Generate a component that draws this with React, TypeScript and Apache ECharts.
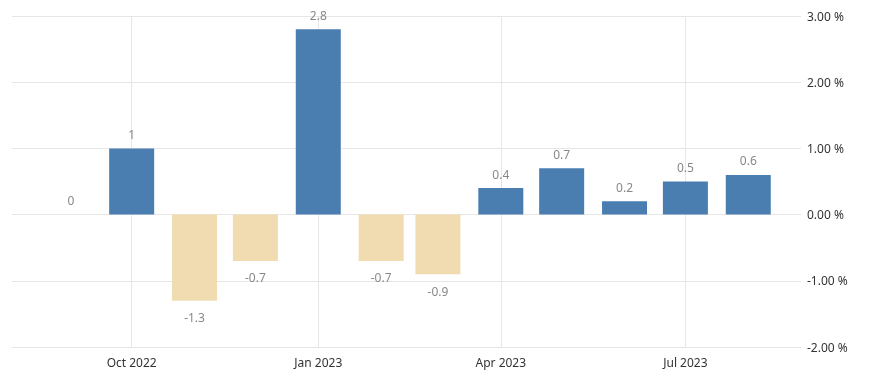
import React, { useEffect, useRef } from "react";
import * as echarts from "echarts";

const months = [
  "2022-09-01", "2022-10-01", "2022-11-01", "2022-12-01", "2023-01-01", "2023-02-01",
  "2023-03-01", "2023-04-01", "2023-05-01", "2023-06-01", "2023-07-01", "2023-08-01",
];
const values = [0, 1, -1.3, -0.7, 2.8, -0.7, -0.9, 0.4, 0.7, 0.2, 0.5, 0.6];
const tickDates = ["2022-10-01", "2023-01-01", "2023-04-01", "2023-07-01"];
const tickLabels = ["Oct 2022", "Jan 2023", "Apr 2023", "Jul 2023"];
const axisStart = "2022-08-03";
const axisEnd = "2023-08-27";

const BLUE = "#4a7eb0";
const TAN = "#f0dcb0";
const FONT = "'Noto Sans', 'Open Sans', sans-serif";

const toTime = (d: string) => new Date(d + "T00:00:00").getTime();

export default function App() {
  const ref = useRef<HTMLDivElement>(null);
  useEffect(() => {
    if (!ref.current) return;
    const chart = echarts.init(ref.current, undefined, { renderer: "svg" });
    const tickTimes = tickDates.map(toTime);
    const data = months.map((m, i) => {
      const v = values[i];
      const neg = v < 0;
      return {
        value: [toTime(m), v],
        itemStyle: { color: neg ? TAN : BLUE },
        label: {
          show: true,
          position: neg ? "bottom" : "top",
          distance: neg ? 11 : 8,
        },
      };
    });
    chart.setOption({
      animation: false,
      grid: { left: 12, right: 74, top: 16, bottom: 43, containLabel: false },
      xAxis: {
        type: "value",
        min: toTime(axisStart),
        max: toTime(axisEnd),
        axisLine: { show: false },
        axisTick: { show: false },
        splitLine: { show: false },
        axisLabel: {
          customValues: tickTimes,
          formatter: (val: number) => {
            const idx = tickTimes.findIndex((t) => Math.abs(t - val) < 86400000);
            return idx >= 0 ? tickLabels[idx] : "";
          },
          color: "#333",
          fontSize: 12,
          fontFamily: FONT,
          margin: 9,
          hideOverlap: false,
        },
      },
      yAxis: {
        type: "value",
        position: "right",
        min: -2,
        max: 3,
        interval: 1,
        axisLine: { show: false },
        axisTick: { show: false },
        splitLine: { show: true, lineStyle: { color: "#e6e6e6", width: 1 } },
        axisLabel: {
          formatter: (v: number) => v.toFixed(2) + " %",
          color: "#333",
          fontSize: 12,
          fontFamily: FONT,
          margin: 6,
        },
      },
      series: [
        {
          type: "bar",
          barWidth: 45,
          data,
          label: {
            show: true,
            color: "#888",
            fontSize: 12,
            fontFamily: FONT,
            formatter: (p: any) => String(p.value[1]),
          },
          markLine: {
            silent: true,
            symbol: "none",
            label: { show: false },
            lineStyle: { color: "#e6e6e6", type: "solid", width: 1 },
            data: tickTimes.map((t) => ({ xAxis: t })),
            z: 0,
          },
        },
      ],
    });
    return () => chart.dispose();
  }, []);
  return (
    <div
      ref={ref}
      style={{ position: "fixed", left: 0, top: 0, width: 875, height: 390 }}
    />
  );
}
